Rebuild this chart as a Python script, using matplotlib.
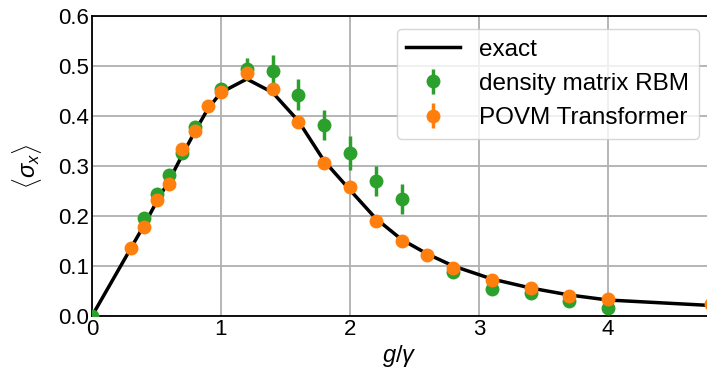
import matplotlib
matplotlib.use("Agg")
import matplotlib.pyplot as plt

plt.rcParams['font.family'] = ['Liberation Sans', 'DejaVu Sans']
plt.rcParams['mathtext.fontset'] = 'custom'
plt.rcParams['mathtext.rm'] = 'Liberation Sans'
plt.rcParams['mathtext.it'] = 'Liberation Sans:italic'

exact_x = [0, 0.3, 0.4, 0.5, 0.6, 0.7, 0.8, 0.9, 1.0, 1.2, 1.4, 1.6, 1.8, 2.0, 2.2, 2.4, 2.6, 2.8, 3.1, 3.4, 3.7, 4.0, 4.8]
exact_y = [0, 0.135, 0.18, 0.228, 0.272, 0.322, 0.37, 0.415, 0.447, 0.474, 0.447, 0.39, 0.31, 0.252, 0.195, 0.153, 0.124, 0.100, 0.074, 0.056, 0.042, 0.032, 0.021]

rbm_x = [0.0, 0.4, 0.5, 0.6, 0.7, 0.8, 1.0, 1.2, 1.4, 1.6, 1.8, 2.0, 2.2, 2.4, 2.8, 3.1, 3.4, 3.7, 4.0]
rbm_y = [0.0, 0.197, 0.244, 0.282, 0.327, 0.379, 0.455, 0.495, 0.490, 0.443, 0.382, 0.326, 0.270, 0.234, 0.088, 0.055, 0.046, 0.030, 0.016]
rbm_err = [0.005, 0.008, 0.008, 0.008, 0.008, 0.008, 0.010, 0.022, 0.032, 0.031, 0.030, 0.035, 0.029, 0.030, 0.008, 0.006, 0.006, 0.005, 0.005]

povm_x = [0.3, 0.4, 0.5, 0.6, 0.7, 0.8, 0.9, 1.0, 1.2, 1.4, 1.6, 1.8, 2.0, 2.2, 2.4, 2.6, 2.8, 3.1, 3.4, 3.7, 4.0, 4.8]
povm_y = [0.137, 0.178, 0.232, 0.265, 0.335, 0.371, 0.420, 0.448, 0.487, 0.455, 0.388, 0.307, 0.259, 0.191, 0.150, 0.123, 0.097, 0.072, 0.057, 0.041, 0.034, 0.025]
povm_err = [0.004] * len(povm_x)

x_ticks = [0, 1, 2, 3, 4]
y_ticks = [0.0, 0.1, 0.2, 0.3, 0.4, 0.5, 0.6]

W, H = 707, 369
fig = plt.figure(figsize=(W / 100, H / 100), dpi=100)
ax = fig.add_axes([92 / W, (H - 316) / H, (707 - 92) / W, 300 / H])

ax.plot(exact_x, exact_y, color='black', lw=2.5, label='exact', zorder=2)
ax.errorbar(rbm_x, rbm_y, yerr=rbm_err, fmt='o', color='#2ca02c', ms=9,
            elinewidth=2.5, capsize=0, label='density matrix RBM', zorder=3)
ax.errorbar(povm_x, povm_y, yerr=povm_err, fmt='o', color='#ff7f0e', ms=9,
            elinewidth=2.5, capsize=0, label='POVM Transformer', zorder=4)

ax.set_xlim(0, 615 / 129)
ax.set_ylim(0, 0.6)
ax.set_xticks(x_ticks)
ax.set_yticks(y_ticks)
ax.set_yticklabels([f"{v:.1f}" for v in y_ticks])
ax.grid(True, color='#b0b0b0', lw=1.3)
ax.set_axisbelow(True)
ax.tick_params(length=0, labelsize=16, pad=2)
for s in ['left', 'top', 'bottom']:
    ax.spines[s].set_color('black')
    ax.spines[s].set_linewidth(1.3)
ax.spines['right'].set_visible(False)

ax.set_xlabel(r'$g/\gamma$', fontsize=17, labelpad=2)
ax.set_ylabel(r'$\langle\sigma_x\rangle$', fontsize=17, labelpad=10)

leg = ax.legend(loc='upper right', bbox_to_anchor=(699 / W, 1 - 29 / H),
                bbox_transform=fig.transFigure, borderaxespad=0,
                fontsize=17.5, handlelength=2.2, framealpha=0.8)

fig.savefig('out.png', dpi=100)
